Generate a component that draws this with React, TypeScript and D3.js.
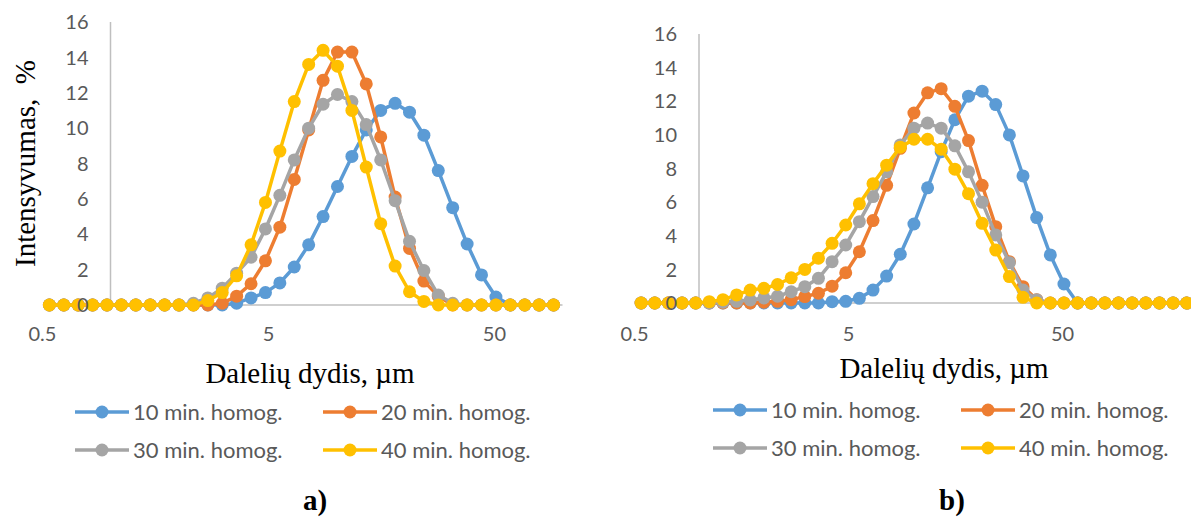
import React from 'react';
import * as d3 from 'd3';

// Particle size bins (µm)
const SIZES_A = [0.5365, 0.6213, 0.7195, 0.8332, 0.9649, 1.117, 1.294, 1.499, 1.736, 2.01, 2.328, 2.696, 3.122, 3.615, 4.187, 4.849, 5.615, 6.503, 7.531, 8.721, 10.1, 11.7, 13.54, 15.69, 18.17, 21.04, 24.36, 28.21, 32.67, 37.84, 43.82, 50.75, 58.77, 68.06, 78.82, 91.28];
const SIZES_B = [0.5365, 0.6213, 0.7195, 0.8332, 0.9649, 1.117, 1.294, 1.499, 1.736, 2.01, 2.328, 2.696, 3.122, 3.615, 4.187, 4.849, 5.615, 6.503, 7.531, 8.721, 10.1, 11.7, 13.54, 15.69, 18.17, 21.04, 24.36, 28.21, 32.67, 37.84, 43.82, 50.75, 58.77, 68.06, 78.82, 91.28, 105.7, 122.4, 141.8, 164.2, 190.1, 220.2];

// Chart a) intensities (%)
const A_10 = [0, 0, 0, 0, 0, 0, 0, 0, 0, 0, 0, 0, 0, 0.1, 0.4, 0.7, 1.25, 2.15, 3.4, 5.0, 6.7, 8.4, 9.9, 11.0, 11.4, 10.9, 9.6, 7.6, 5.5, 3.45, 1.7, 0.45, 0, 0, 0, 0];
const A_20 = [0, 0, 0, 0, 0, 0, 0, 0, 0, 0, 0, 0, 0.1, 0.5, 1.2, 2.5, 4.4, 7.1, 9.9, 12.7, 14.3, 14.3, 12.5, 9.5, 6.1, 3.2, 1.35, 0.5, 0, 0, 0, 0, 0, 0, 0, 0];
const A_30 = [0, 0, 0, 0, 0, 0, 0, 0, 0, 0, 0.1, 0.4, 0.95, 1.8, 2.7, 4.3, 6.2, 8.2, 10.0, 11.35, 11.9, 11.5, 10.2, 8.2, 5.9, 3.6, 1.95, 0.56, 0.1, 0, 0, 0, 0, 0, 0, 0];
const A_40 = [0, 0, 0, 0, 0, 0, 0, 0, 0, 0, 0, 0.25, 0.7, 1.65, 3.4, 5.8, 8.7, 11.5, 13.6, 14.4, 13.5, 11.0, 7.8, 4.6, 2.2, 0.75, 0.2, 0, 0, 0, 0, 0, 0, 0, 0, 0];

// Chart b) intensities (%)
const B_10 = [0, 0, 0, 0, 0, 0, 0, 0, 0, 0, 0, 0, 0, 0, 0.08, 0.1, 0.28, 0.77, 1.6, 2.9, 4.7, 6.85, 9.0, 10.9, 12.3, 12.6, 11.8, 10.0, 7.56, 5.08, 2.86, 1.13, 0, 0, 0, 0, 0, 0, 0, 0, 0, 0];
const B_20 = [0, 0, 0, 0, 0, 0, 0, 0, 0, 0.05, 0.1, 0.2, 0.38, 0.58, 1.0, 1.8, 3.05, 4.9, 7.0, 9.2, 11.3, 12.5, 12.75, 11.7, 9.66, 7.0, 4.54, 2.46, 0.97, 0.2, 0, 0, 0, 0, 0, 0, 0, 0, 0, 0, 0, 0];
const B_30 = [0, 0, 0, 0, 0, 0, 0.05, 0.1, 0.18, 0.3, 0.4, 0.67, 0.97, 1.47, 2.46, 3.45, 4.84, 6.33, 7.8, 9.4, 10.4, 10.7, 10.4, 9.35, 7.8, 6.0, 4.05, 2.4, 0.77, 0.2, 0, 0, 0, 0, 0, 0, 0, 0, 0, 0, 0, 0];
const B_40 = [0, 0, 0, 0, 0, 0.08, 0.2, 0.48, 0.77, 0.87, 1.1, 1.5, 2.0, 2.66, 3.55, 4.64, 5.9, 7.1, 8.2, 9.27, 9.74, 9.74, 9.15, 7.96, 6.5, 4.74, 3.15, 1.57, 0.34, 0, 0, 0, 0, 0, 0, 0, 0, 0, 0, 0, 0, 0];

const SERIES_NAMES = ['10 min. homog.', '20 min. homog.', '30 min. homog.', '40 min. homog.'];
const COLORS = ['#5B9BD5', '#ED7D31', '#A5A5A5', '#FFC000'];
const X_TICKS = [0.5, 5, 50];
const Y_TICKS = [0, 2, 4, 6, 8, 10, 12, 14, 16];
const X_TITLE = 'Dalelių dydis, µm';
const Y_TITLE = 'Intensyvumas,\u00A0 %';

const SANS = 'Lato, "Open Sans", sans-serif';
const SERIF = '"Liberation Serif", "Times New Roman", serif';
const TEXT_COL = '#595959';
const AXIS_COL = '#BFBFBF';

type PanelProps = {
  sizes: number[];
  series: number[][];
  axisX: number; // pixel of x = 1
  decade: number;
  xMax: number;
  yZero: number;
  yTop: number;
  xTickY: number;
  titleX: number;
  titleY: number;
  legendX: number[];
  legendY: number[];
  tag: string;
  tagX: number;
  showYTitle: boolean;
};

function Panel(p: PanelProps) {
  const x = d3
    .scaleLog()
    .domain([0.5, p.xMax])
    .range([p.axisX - p.decade * Math.log10(2), p.axisX + p.decade * Math.log10(p.xMax)]);
  const y = d3.scaleLinear().domain([0, 16]).range([p.yZero, p.yTop]);
  const line = d3
    .line<[number, number]>()
    .x((d) => x(d[0]))
    .y((d) => y(d[1]));
  const x1 = x(1);
  const xEnd = x(p.xMax);

  return (
    <g>
      {/* axis lines */}
      <line x1={x1} x2={x1} y1={y(0)} y2={y(16)} stroke={AXIS_COL} strokeWidth={1.5} />
      <line x1={x1} x2={xEnd} y1={y(0)} y2={y(0)} stroke={AXIS_COL} strokeWidth={1.5} />
      {/* series */}
      {p.series.map((vals, si) => {
        const pts = p.sizes.map((s, i) => [s, vals[i]] as [number, number]);
        return (
          <g key={si}>
            <path d={line(pts) || ''} fill="none" stroke={COLORS[si]} strokeWidth={3.5} strokeLinejoin="round" />
            {pts.map((d, i) => (
              <circle key={i} cx={x(d[0])} cy={y(d[1])} r={6.5} fill={COLORS[si]} />
            ))}
          </g>
        );
      })}
      {/* y tick labels */}
      {Y_TICKS.map((t) => (
        <text key={t} x={x1 - 22} y={y(t)} dy="0.36em" textAnchor="end" fontFamily={SANS} fontSize={20} fill={TEXT_COL}>
          {t}
        </text>
      ))}
      {/* x tick labels */}
      {X_TICKS.map((t) => (
        <text key={t} x={x(t)} y={p.xTickY} textAnchor="middle" fontFamily={SANS} fontSize={20} fill={TEXT_COL}>
          {t}
        </text>
      ))}
      {/* axis titles */}
      <text x={p.titleX} y={p.titleY} textAnchor="middle" fontFamily={SERIF} fontSize={29} fill="#000">
        {X_TITLE}
      </text>
      {p.showYTitle && (
        <text
          transform={`translate(35, ${(y(0) + y(16)) / 2}) rotate(-90)`}
          textAnchor="middle"
          fontFamily={SERIF}
          fontSize={29}
          fill="#000"
        >
          {Y_TITLE}
        </text>
      )}
      {/* legend */}
      {SERIES_NAMES.map((name, i) => {
        const lx = p.legendX[i % 2];
        const ly = p.legendY[Math.floor(i / 2)];
        return (
          <g key={name}>
            <line x1={lx} x2={lx + 54} y1={ly} y2={ly} stroke={COLORS[i]} strokeWidth={3.5} />
            <circle cx={lx + 27} cy={ly} r={6.5} fill={COLORS[i]} />
            <text x={lx + 58} y={ly} dy="0.36em" fontFamily={SANS} fontSize={22} fill={TEXT_COL}>
              {name}
            </text>
          </g>
        );
      })}
      <text x={p.tagX} y={510} textAnchor="middle" fontFamily={SERIF} fontWeight="bold" fontSize={29} fill="#000">
        {p.tag}
      </text>
    </g>
  );
}

export default function App() {
  return (
    <svg
      width={1191}
      height={517}
      viewBox="0 0 1191 517"
      style={{ position: 'absolute', left: 0, top: 0, background: '#fff' }}
    >
      <rect width={1191} height={517} fill="#fff" />
      <Panel
        sizes={SIZES_A}
        series={[A_10, A_20, A_30, A_40]}
        axisX={110.5}
        decade={226}
        xMax={100}
        yZero={305}
        yTop={22}
        xTickY={341}
        titleX={310}
        titleY={383}
        legendX={[75, 323]}
        legendY={[412, 450]}
        tag="a)"
        tagX={315}
        showYTitle={true}
      />
      <Panel
        sizes={SIZES_B}
        series={[B_10, B_20, B_30, B_40]}
        axisX={699}
        decade={214}
        xMax={200}
        yZero={303}
        yTop={34}
        xTickY={341}
        titleX={944}
        titleY={378}
        legendX={[713, 961]}
        legendY={[410, 448]}
        tag="b)"
        tagX={952}
        showYTitle={false}
      />
    </svg>
  );
}
